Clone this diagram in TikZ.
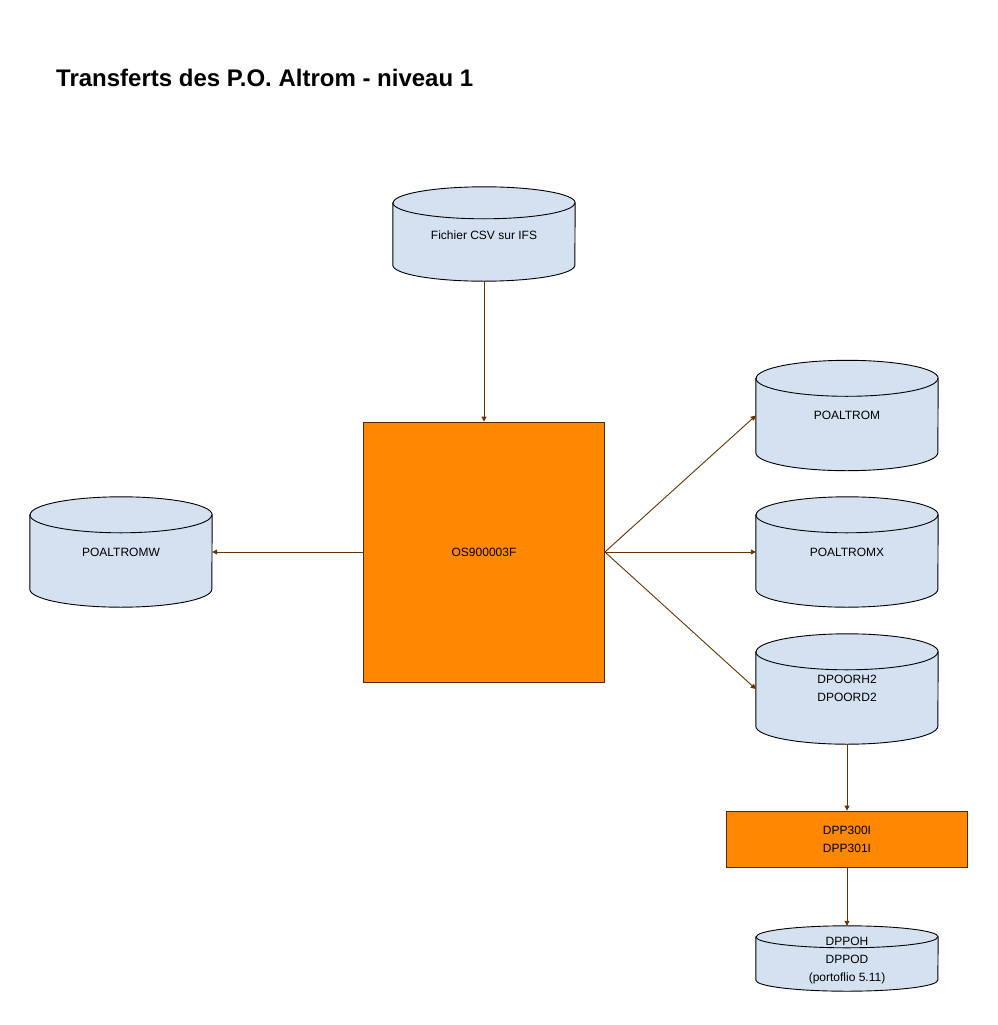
\documentclass[tikz,border=0pt]{standalone}
\usepackage{fontspec}
\setmainfont{Liberation Sans}
\usetikzlibrary{arrows.meta,calc}
\definecolor{cylfill}{HTML}{D4E1F0}
\definecolor{boxorange}{HTML}{FF8800}
\definecolor{arrowbrown}{HTML}{663300}
\tikzset{
  cylnode/.style={draw=none,minimum width=182pt,inner sep=0pt,align=center,font=\fontsize{12pt}{18pt}\selectfont},
  procbox/.style={draw=arrowbrown!80!black,fill=boxorange,line width=0.8pt,inner sep=0pt,align=center,font=\fontsize{12pt}{18pt}\selectfont},
  flow/.style={draw=arrowbrown,line width=0.9pt,-{Triangle[length=5pt,width=5pt]}},
  cylline/.style={draw=black,line width=0.9pt}
}
\newcommand{\cylshape}[2]{%
  \path[cylline,fill=cylfill] ($(#1.north west)+(0,-#2)$) -- ($(#1.south west)+(0,#2)$)
    arc[start angle=180,end angle=360,x radius=91pt,y radius=#2pt]
    -- ($(#1.north east)+(0,-#2)$)
    arc[start angle=0,end angle=180,x radius=91pt,y radius=#2pt] -- cycle;
  \draw[cylline] ($(#1.north west)+(0,-#2)$) arc[start angle=180,end angle=360,x radius=91pt,y radius=#2pt];
}
\begin{document}
\begin{tikzpicture}[x=1pt,y=1pt]
\useasboundingbox (0,0) rectangle (998,-1025);
\node[anchor=west,inner sep=0pt,font=\fontsize{24pt}{28pt}\selectfont\bfseries] (title) at (56,-78) {Transferts des P.O. Altrom - niveau 1};

% cylinders (shape nodes)
\node[cylnode,minimum height=94pt] (csv) at (484,-234) {};
\node[cylnode,minimum height=110pt] (poaltromw) at (121,-552) {};
\node[cylnode,minimum height=110pt] (poaltrom) at (847,-415.5) {};
\node[cylnode,minimum height=110pt] (poaltromx) at (847,-552) {};
\node[cylnode,minimum height=110pt] (dpoor) at (847,-689) {};
\node[cylnode,minimum height=65pt] (dppoh) at (847,-958.5) {};
\cylshape{csv}{16}
\cylshape{poaltromw}{18}
\cylshape{poaltrom}{18}
\cylshape{poaltromx}{18}
\cylshape{dpoor}{18}
\cylshape{dppoh}{11}
\node[cylnode] (csvt) at (484,-235) {Fichier CSV sur IFS};
\node[cylnode] (poaltromwt) at (121,-552) {POALTROMW};
\node[cylnode] (poaltromt) at (847,-415) {POALTROM};
\node[cylnode] (poaltromxt) at (847,-552) {POALTROMX};
\node[cylnode] (dpoort) at (847,-688.5) {DPOORH2\\DPOORD2};
\node[cylnode] (dppoht) at (847,-961) {DPPOH\\DPPOD\\(portoflio 5.11)};

% process boxes
\node[procbox,minimum width=241pt,minimum height=260pt] (os) at (484,-552) {OS900003F};
\node[procbox,minimum width=241pt,minimum height=56pt] (dpp) at (847,-839) {DPP300I\\DPP301I};

% connectors
\draw[flow] (csv.south) -- (os.north);
\draw[flow] (os.west) -- (poaltromw.east);
\draw[flow] (os.east) -- (poaltrom.west);
\draw[flow] (os.east) -- (poaltromx.west);
\draw[flow] (os.east) -- (dpoor.west);
\draw[flow] (dpoor.south) -- (dpp.north);
\draw[flow] (dpp.south) -- (dppoh.north);
\end{tikzpicture}
\end{document}
